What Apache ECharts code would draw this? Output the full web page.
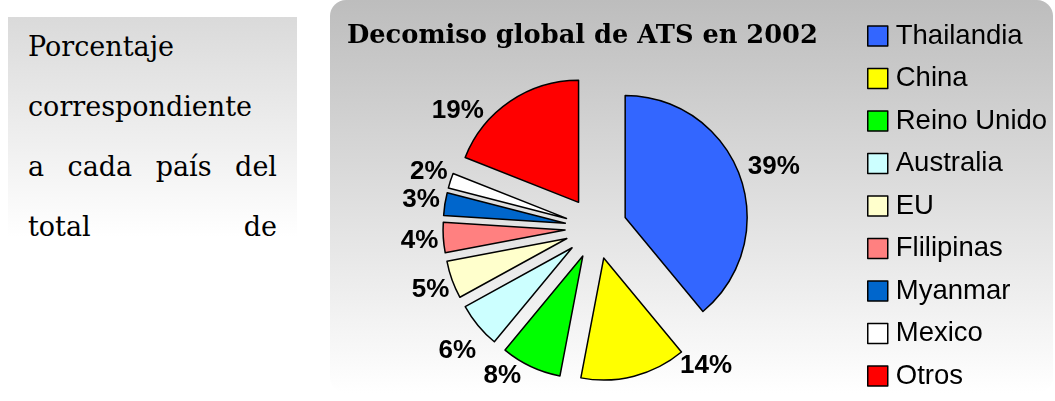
<!DOCTYPE html>
<html>
<head>
<meta charset="utf-8">
<script src="https://cdn.jsdelivr.net/npm/echarts@6/dist/echarts.min.js"></script>
<style>
  body { margin: 0; background: #fff; }
  #chart { position: absolute; left: 0; top: 0; width: 1055px; height: 401px; }
  #nota {
    position: absolute; left: 8px; top: 17px; width: 249px; height: 220px;
    padding: 0 20px; overflow: hidden;
    background: linear-gradient(to bottom, #dadada, #ffffff);
    font-family: 'DejaVu Serif', serif; font-size: 27px; line-height: 60px;
    text-align: justify; text-align-last: justify; color: #000;
  }
</style>
</head>
<body>
<div id="chart"></div>
<div id="nota">Porcentaje<br>correspondiente<br>a cada país del<br>total de</div>
<script>
// datos (porcentaje por pais)
var paises = ['Thailandia', 'China', 'Reino Unido', 'Australia', 'EU', 'Flilipinas', 'Myanmar', 'Mexico', 'Otros']
var porcentajes = [39, 14, 8, 6, 5, 4, 3, 2, 19]
var colores = ['#3366ff', '#ffff00', '#00ff00', '#ccffff', '#ffffcc', '#ff8080', '#0066cc', '#ffffff', '#ff0000']
// pequeño ajuste de las etiquetas para parecerse a Excel
var ajusteEtiqueta = [[2, -8], [43, -14], [-6, 6], [3, 23], [3, 9], [1, 3], [1, -4], [3, -8], [-22, 13]]

var chart = echarts.init(document.getElementById('chart'))

var datos = paises.map(function(p, i) {
  return {
    name: p,
    value: porcentajes[i],
    selected: true,
    itemStyle: { color: colores[i] }
  }
})

var option = {
  animation: false,
  backgroundColor: 'transparent',
  graphic: [
    {
      type: 'rect',
      z: -10,
      shape: { x: 330, y: 0, width: 723, height: 393, r: 16 },
      style: {
        fill: new echarts.graphic.LinearGradient(0, 0, 0, 1, [
          { offset: 0, color: '#bdbdbd' },
          { offset: 1, color: '#ffffff' }
        ])
      }
    }
  ],
  title: {
    text: 'Decomiso global de ATS en 2002',
    left: 342,
    top: 18,
    textStyle: {
      fontFamily: 'DejaVu Serif',
      fontWeight: 'bold',
      fontSize: 25.7,
      color: '#000'
    }
  },
  legend: {
    orient: 'vertical',
    left: 867,
    top: 22,
    padding: 0,
    itemWidth: 20,
    itemHeight: 20,
    itemGap: 14.5,
    icon: 'rect',
    selectedMode: false,
    itemStyle: { borderColor: '#000', borderWidth: 1.5 },
    textStyle: {
      fontFamily: 'Liberation Sans',
      fontSize: 27.5,
      color: '#000',
      padding: [0, 0, 0, 3]
    },
    data: paises
  },
  series: [
    {
      type: 'pie',
      center: [596, 228],
      radius: 122,
      startAngle: 90,
      clockwise: true,
      selectedMode: 'multiple',
      selectedOffset: 31,
      avoidLabelOverlap: false,
      labelLayout: function(params) {
        var a = ajusteEtiqueta[params.dataIndex]
        return { hideOverlap: false, dx: a[0], dy: a[1] }
      },
      emphasis: { disabled: true },
      itemStyle: { borderColor: '#000', borderWidth: 1.5 },
      select: { itemStyle: { borderColor: '#000', borderWidth: 1.5 } },
      label: {
        show: true,
        position: 'outside',
        formatter: '{c}%',
        fontFamily: 'Liberation Sans',
        fontWeight: 'bold',
        fontSize: 26,
        lineHeight: 22,
        color: '#000',
        distanceToLabelLine: 2
      },
      labelLine: { show: false, length: 4, length2: 0 },
      data: datos
    }
  ]
}

chart.setOption(option)
</script>
</body>
</html>
